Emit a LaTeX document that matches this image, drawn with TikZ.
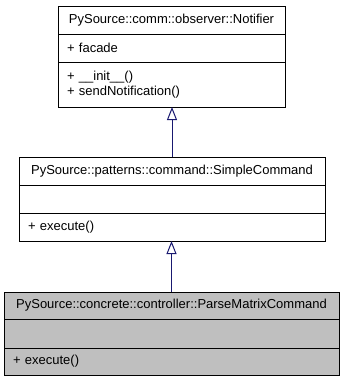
\documentclass[tikz,border=0pt]{standalone}
\usepackage{fontspec}
\setmainfont{Liberation Sans}
\usetikzlibrary{arrows.meta}
\definecolor{edgeblue}{HTML}{191970}
\definecolor{leafgrey}{HTML}{BFBFBF}
\begin{document}
\begin{tikzpicture}[x=1pt,y=1pt,
  compart/.style={draw=black, line width=1pt, rectangle, inner xsep=9pt,
    inner ysep=0pt, outer sep=0pt, anchor=north west,
    font=\fontsize{13}{15}\selectfont},
  title/.style={compart, align=center},
  members/.style={compart, align=left},
  inherit/.style={draw=edgeblue, line width=1pt,
    -{Triangle[open,length=13pt,width=10pt]}}
]
\useasboundingbox (0,0) rectangle (344,-381);

% Notifier
\node[title, minimum width=227pt, minimum height=28pt] (n1) at (58,-6)
  {PySource::comm::observer::Notifier};
\node[members, text width=209pt, minimum height=28pt] (n1a) at (n1.south west)
  {+ facade};
\node[members, text width=209pt, minimum height=45pt] (n1m) at (n1a.south west)
  {+ \_\_init\_\_()\\+ sendNotification()};

% SimpleCommand
\node[title, minimum width=306pt, minimum height=28pt] (s1) at (19,-157)
  {PySource::patterns::command::SimpleCommand};
\node[members, text width=288pt, minimum height=28pt] (s1a) at (s1.south west) {};
\node[members, text width=288pt, minimum height=28pt] (s1m) at (s1a.south west)
  {+ execute()};

% ParseMatrixCommand
\node[title, fill=leafgrey, minimum width=335pt, minimum height=27pt] (p1) at (4,-292)
  {PySource::concrete::controller::ParseMatrixCommand};
\node[members, fill=leafgrey, text width=317pt, minimum height=29pt] (p1a) at (p1.south west) {};
\node[members, fill=leafgrey, text width=317pt, minimum height=27pt] (p1m) at (p1a.south west)
  {+ execute()};

% Generalisation arrows
\draw[inherit] (s1.north) -- (s1.north |- n1m.south);
\draw[inherit] (p1.north) -- (p1.north |- s1m.south);
\end{tikzpicture}
\end{document}
